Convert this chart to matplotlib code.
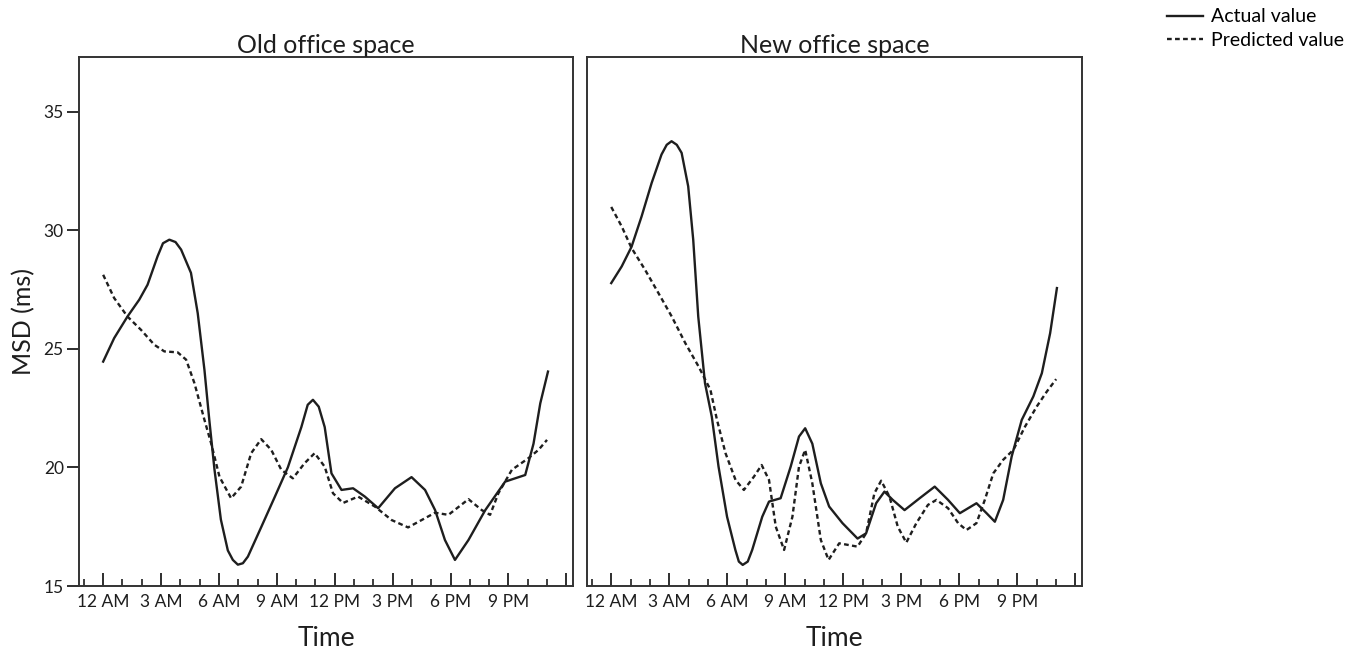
import matplotlib
matplotlib.use("Agg")
from matplotlib import pyplot as plt
from matplotlib.ticker import FixedLocator, MultipleLocator

plt.rcParams['font.family'] = ['Lato', 'DejaVu Sans']

# hours after midnight / MSD values
old_actual_h = [0.0, 0.57, 1.26, 1.87, 2.3, 2.82, 3.1, 3.43, 3.75, 4.04, 4.55, 4.9, 5.25, 5.5,
                5.77, 6.1, 6.46, 6.72, 6.98, 7.24, 7.5, 8.2, 8.9, 9.57, 10.27, 10.6, 10.87,
                11.17, 11.48, 11.83, 12.35, 12.95, 13.56, 14.25, 15.12, 15.98, 16.68, 17.2,
                17.71, 18.23, 18.93, 19.8, 20.83, 21.35, 21.87, 22.3, 22.65, 23.05]
old_actual_v = [24.46, 25.45, 26.36, 27.07, 27.7, 28.9, 29.45, 29.6, 29.5, 29.18, 28.2, 26.5,
                24.1, 22.0, 19.9, 17.8, 16.5, 16.1, 15.9, 15.96, 16.24, 17.5, 18.77, 20.0,
                21.7, 22.64, 22.85, 22.56, 21.7, 19.75, 19.05, 19.12, 18.77, 18.28, 19.12,
                19.59, 19.05, 18.2, 16.94, 16.1, 16.94, 18.2, 19.4, 19.54, 19.68, 21.0, 22.7,
                24.04]

old_pred_h = [0.0, 0.57, 1.26, 1.96, 2.65, 3.17, 3.86, 4.3, 4.73, 5.25, 5.6, 6.03, 6.63, 7.15,
              7.67, 8.19, 8.71, 9.23, 9.83, 10.44, 10.96, 11.48, 11.91, 12.43, 13.21, 14.08,
              14.95, 15.8, 16.5, 17.2, 17.89, 18.93, 19.62, 20.05, 20.48, 21.18, 22.04,
              22.56, 23.0]
old_pred_v = [28.12, 27.14, 26.36, 25.8, 25.17, 24.89, 24.85, 24.54, 23.55, 22.0, 21.0, 19.6,
              18.7, 19.19, 20.6, 21.19, 20.74, 19.9, 19.54, 20.18, 20.6, 20.03, 18.91, 18.5,
              18.77, 18.35, 17.78, 17.47, 17.78, 18.09, 18.0, 18.66, 18.2, 18.0, 18.91,
              19.9, 20.39, 20.74, 21.16]

new_actual_h = [0.0, 0.54, 1.05, 1.57, 2.09, 2.6, 2.87, 3.12, 3.39, 3.64, 3.98, 4.24, 4.5,
                4.85, 5.2, 5.55, 5.99, 6.42, 6.6, 6.8, 7.06, 7.29, 7.81, 8.16, 8.76, 9.28,
                9.71, 10.03, 10.4, 10.84, 11.27, 11.96, 12.74, 13.18, 13.7, 14.13, 14.56,
                15.17, 15.95, 16.73, 17.42, 18.03, 18.89, 19.41, 19.84, 20.27, 20.71, 21.23,
                21.83, 22.27, 22.7, 23.05]
new_actual_v = [27.77, 28.47, 29.3, 30.58, 31.99, 33.19, 33.6, 33.75, 33.6, 33.26, 31.85,
                29.6, 26.36, 23.55, 22.14, 20.03, 17.92, 16.52, 16.03, 15.89, 16.03, 16.52,
                17.92, 18.56, 18.7, 20.03, 21.3, 21.65, 21.0, 19.33, 18.35, 17.65, 17.0,
                17.22, 18.49, 18.98, 18.63, 18.2, 18.7, 19.19, 18.63, 18.07, 18.49, 18.07,
                17.71, 18.63, 20.46, 22.0, 22.99, 23.97, 25.66, 27.56]

new_pred_h = [0.0, 0.54, 1.05, 1.75, 2.44, 3.13, 3.83, 4.52, 5.13, 5.47, 5.91, 6.43, 6.86,
              7.38, 7.78, 8.16, 8.51, 8.94, 9.37, 9.71, 10.03, 10.4, 10.84, 11.24, 11.79,
              12.74, 13.18, 13.61, 13.96, 14.39, 14.82, 15.26, 15.78, 16.38, 16.82, 17.42,
              17.94, 18.37, 18.89, 19.32, 19.76, 20.27, 20.8, 21.4, 22.01, 22.53, 23.01]
new_pred_v = [30.98, 30.16, 29.25, 28.33, 27.35, 26.36, 25.24, 24.25, 23.27, 22.0, 20.6,
              19.47, 19.05, 19.61, 20.1, 19.47, 17.5, 16.52, 17.92, 20.03, 20.74, 19.33,
              16.94, 16.1, 16.8, 16.66, 17.22, 18.91, 19.44, 18.77, 17.5, 16.83, 17.65,
              18.42, 18.63, 18.28, 17.65, 17.36, 17.65, 18.63, 19.75, 20.32, 20.74, 21.72,
              22.57, 23.2, 23.72]

tick_hours = [0, 3, 6, 9, 12, 15, 18, 21, 24]
tick_labels = ['12 AM', '3 AM', '6 AM', '9 AM', '12 PM', '3 PM', '6 PM', '9 PM', '']
y_ticks = [15, 20, 25, 30, 35]

ink = '#1e1e1e'
fig = plt.figure(figsize=(13.58, 6.6), dpi=100)
ax1 = fig.add_axes([0.0582, 0.1121, 0.3638, 0.8015])
ax2 = fig.add_axes([0.4323, 0.1121, 0.3645, 0.8015], sharey=ax1)

panels = [(ax1, 'Old office space', old_actual_h, old_actual_v, old_pred_h, old_pred_v),
          (ax2, 'New office space', new_actual_h, new_actual_v, new_pred_h, new_pred_v)]

for ax, title, ah, av, ph, pv in panels:
    la, = ax.plot(ah, av, color=ink, lw=1.7, solid_joinstyle='round', label='Actual value')
    lp, = ax.plot(ph, pv, color=ink, lw=1.7, dashes=(2.0, 1.4), dash_joinstyle='round',
                  label='Predicted value')
    ax.set_xlim(-1.25, 24.35)
    ax.set_ylim(15, 37.3)
    ax.xaxis.set_major_locator(FixedLocator(tick_hours))
    ax.set_xticklabels(tick_labels)
    ax.xaxis.set_minor_locator(MultipleLocator(1))
    ax.tick_params(axis='x', which='major', direction='in', length=9.5, width=1.3,
                   colors=ink, labelsize=12.5, pad=6)
    ax.tick_params(axis='x', which='minor', direction='in', length=5, width=1.2, colors=ink)
    ax.set_title(title, fontsize=18, color=ink, pad=3)
    ax.set_xlabel('Time', fontsize=19, color=ink, labelpad=11)
    for s in ax.spines.values():
        s.set_linewidth(1.4)
        s.set_color('#333333')

ax1.set_yticks(y_ticks)
ax1.tick_params(axis='y', direction='out', length=9, width=1.3, colors=ink, labelsize=12.5, pad=2)
ax1.set_ylabel('MSD (ms)', fontsize=18, color=ink, labelpad=6)
ax2.tick_params(axis='y', left=False, labelleft=False)

fig.legend(handles=[la, lp], loc='upper left', bbox_to_anchor=(0.851, 1.005), frameon=False,
           fontsize=14, handlelength=1.85, handletextpad=0.4, labelspacing=0.35,
           borderaxespad=0.2)

fig.savefig('out.png', dpi=100)
